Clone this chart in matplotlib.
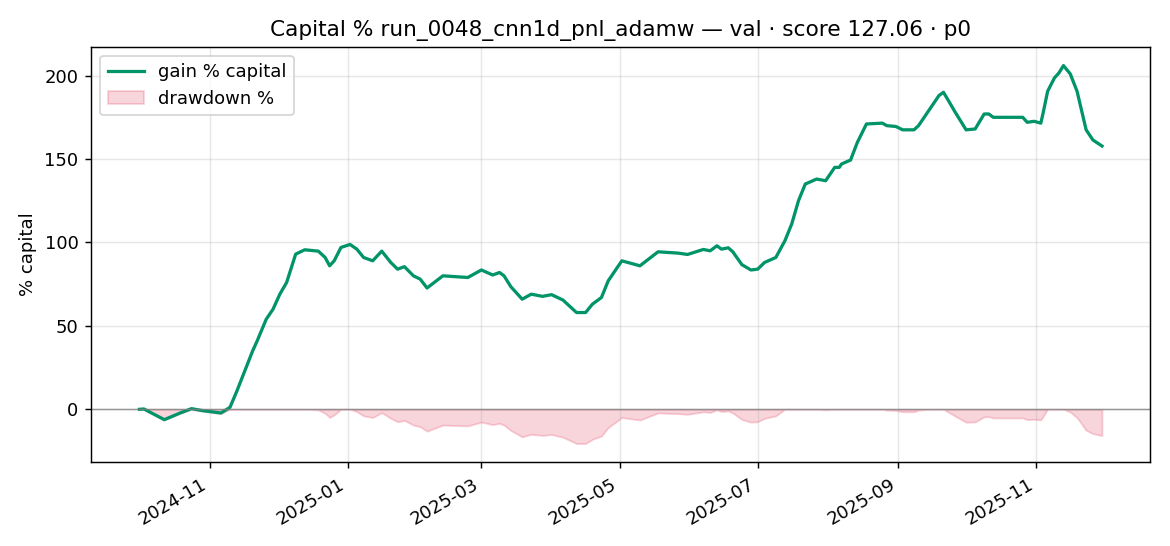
import numpy as np
import pandas as pd
import matplotlib
matplotlib.use("Agg")
import matplotlib.pyplot as plt
import matplotlib.dates as mdates

# значения (дата, прирост капитала в %)
dates = [
    "2024-10-01", "2024-10-03", "2024-10-12", "2024-10-19", "2024-10-24",
    "2024-10-29", "2024-11-06", "2024-11-10", "2024-11-13", "2024-11-20",
    "2024-11-22", "2024-11-26", "2024-11-29", "2024-12-02", "2024-12-05",
    "2024-12-09", "2024-12-13", "2024-12-19", "2024-12-22", "2024-12-24",
    "2024-12-26", "2024-12-29", "2025-01-02", "2025-01-05", "2025-01-08",
    "2025-01-12", "2025-01-16", "2025-01-20", "2025-01-23", "2025-01-26",
    "2025-01-30", "2025-02-02", "2025-02-05", "2025-02-12", "2025-02-23",
    "2025-03-01", "2025-03-06", "2025-03-09", "2025-03-11", "2025-03-14",
    "2025-03-19", "2025-03-23", "2025-03-28", "2025-04-01", "2025-04-06",
    "2025-04-12", "2025-04-16", "2025-04-19", "2025-04-23", "2025-04-26",
    "2025-05-02", "2025-05-06", "2025-05-10", "2025-05-18", "2025-05-27",
    "2025-05-31", "2025-06-07", "2025-06-10", "2025-06-13", "2025-06-15",
    "2025-06-18", "2025-06-20", "2025-06-24", "2025-06-28", "2025-07-01",
    "2025-07-04", "2025-07-09", "2025-07-13", "2025-07-16", "2025-07-19",
    "2025-07-22", "2025-07-27", "2025-07-31", "2025-08-04", "2025-08-06",
    "2025-08-07", "2025-08-11", "2025-08-14", "2025-08-18", "2025-08-25",
    "2025-08-27", "2025-08-31", "2025-09-03", "2025-09-08", "2025-09-10",
    "2025-09-15", "2025-09-19", "2025-09-21", "2025-09-23", "2025-09-26",
    "2025-10-01", "2025-10-05", "2025-10-09", "2025-10-11", "2025-10-13",
    "2025-10-26", "2025-10-28", "2025-10-31", "2025-11-03", "2025-11-04",
    "2025-11-06", "2025-11-09", "2025-11-11", "2025-11-13", "2025-11-16",
    "2025-11-19", "2025-11-23", "2025-11-26", "2025-11-30",
]
gain = [
    0.0, 0.2, -6.2, -2.2, 0.4,
    -0.8, -2.2, 1.2, 10.8, 35.0,
    41.0, 54.0, 60.0, 69.0, 76.0,
    93.0, 95.6, 94.8, 91.0, 86.0,
    89.0, 97.0, 98.8, 96.0, 91.0,
    89.0, 94.8, 88.0, 84.0, 85.5,
    80.0, 78.0, 72.7, 80.0, 79.0,
    83.5, 80.5, 82.0, 80.0, 73.5,
    66.0, 69.0, 67.7, 68.7, 65.5,
    58.0, 58.0, 63.0, 67.0, 77.0,
    89.0, 87.5, 86.0, 94.4, 93.6,
    92.8, 95.8, 95.0, 98.0, 96.0,
    96.8, 94.4, 86.7, 83.5, 84.0,
    88.0, 91.0, 101.0, 111.0, 125.0,
    135.0, 138.0, 137.0, 145.0, 145.0,
    147.0, 149.4, 160.0, 171.0, 171.5,
    170.0, 169.5, 167.5, 167.5, 170.0,
    180.0, 188.0, 190.0, 185.5, 178.5,
    167.5, 168.0, 177.0, 177.0, 175.0,
    175.0, 172.0, 172.6, 171.5, 177.5,
    190.6, 198.6, 201.6, 206.0, 201.0,
    190.6, 167.5, 161.4, 157.8,
]

title = "Capital % run_0048_cnn1d_pnl_adamw — val · score 127.06 · p0"

t = pd.to_datetime(dates)
g = np.array(gain)
# просадка относительно максимума капитала
cap = 1 + g / 100
dd = (cap / np.maximum.accumulate(cap) - 1) * 100

fig, ax = plt.subplots(figsize=(9, 4.2), dpi=130)
ax.plot(t, g, color="#009468", lw=1.8, label="gain % capital")
ax.fill_between(t, dd, 0, color="crimson", alpha=0.18, label="drawdown %")
ax.axhline(0, color="gray", lw=0.8, alpha=0.8)

ax.set_title(title)
ax.set_ylabel("% capital")
ax.grid(alpha=0.3)
ax.legend(loc="upper left")
ax.xaxis.set_major_locator(mdates.MonthLocator(bymonth=[1, 3, 5, 7, 9, 11]))
ax.xaxis.set_major_formatter(mdates.DateFormatter("%Y-%m"))
fig.autofmt_xdate()
fig.subplots_adjust(left=0.078, right=0.983, top=0.9145, bottom=0.153)
fig.savefig("out.png")
